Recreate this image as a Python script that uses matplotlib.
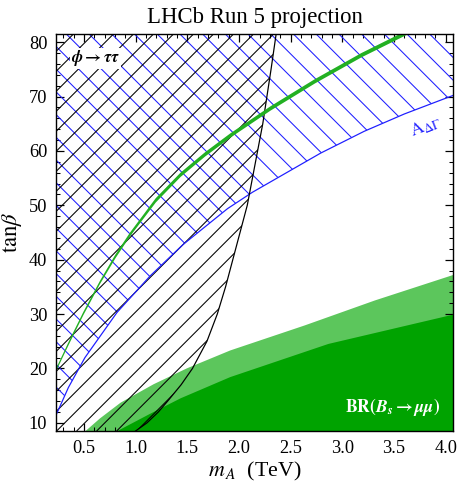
import matplotlib
matplotlib.use('Agg')
import matplotlib.pyplot as plt
import numpy as np
from matplotlib.ticker import MultipleLocator
from matplotlib.collections import LineCollection

# phi -> tau tau exclusion boundary (m_A at given tan beta)
tau_y = [8.5, 10.0, 12.0, 14.0, 17.0, 20.0, 25.0, 30.0, 35.0, 40.0, 45.0, 50.0,
         55.0, 60.0, 65.0, 70.0, 75.0, 81.6]
tau_x = [1.00, 1.11, 1.22, 1.31, 1.44, 1.55, 1.69, 1.79, 1.87, 1.94, 2.01, 2.08,
         2.13, 2.18, 2.23, 2.27, 2.31, 2.36]

# A_DeltaGamma lower boundary
adg_x = [0.23, 0.35, 0.51, 0.82, 1.14, 1.46, 1.89, 2.13, 2.79, 3.21, 3.60, 4.07]
adg_y = [11.4, 16.5, 22.0, 30.3, 37.0, 42.8, 49.4, 52.4, 59.6, 63.6, 66.8, 70.2]

# green central band
band_x = [0.23, 0.36, 0.49, 0.65, 0.80, 0.94, 1.19, 1.43, 1.67, 1.91, 2.30, 2.73, 3.18, 3.70]
band_lo = [19.75, 24.9, 29.9, 35.6, 40.35, 44.35, 50.6, 55.3, 59.1, 62.5, 67.5, 72.5, 77.3, 82.2]
band_hi = [20.25, 25.5, 30.5, 36.2, 41.05, 45.05, 51.4, 56.1, 59.9, 63.3, 68.3, 73.3, 78.1, 83.0]

# BR(Bs -> mu mu) regions
br_light_x = [0.50, 0.65, 0.85, 1.17, 1.49, 1.91, 2.63, 3.31, 4.07]
br_light_y = [8.4, 10.9, 13.8, 17.2, 20.1, 23.4, 28.0, 32.6, 37.3]
br_dark_x = [0.80, 1.14, 1.43, 1.91, 2.86, 4.07]
br_dark_y = [8.4, 11.8, 14.6, 18.5, 24.6, 30.0]

BLUE = '#1f1fff'

plt.rcParams['mathtext.fontset'] = 'stix'
plt.rcParams['font.family'] = ['Liberation Serif', 'DejaVu Serif']

fig = plt.figure(figsize=(457/126., 484/126.), dpi=126)
ax = fig.add_axes([56/457., 1-431/484., 397/457., 397/484.])


def hatch(region, spacing, phase, up, color):
    # diagonal lines in axes coords (the axes box is square -> 45 deg on screen)
    segs = []
    for c in np.arange(phase - 2*spacing*int(1/spacing), 1.0 + spacing, spacing):
        if up:
            segs.append([(c, 0), (c + 1, 1)])
        else:
            segs.append([(c, 1), (c + 1, 0)])
    lc = LineCollection(segs, colors=color, linewidths=0.6, zorder=3,
                        transform=ax.transAxes)
    lc.set_clip_path(region.get_paths()[0], region.get_transform())
    lc.set_clip_box(ax.bbox)
    ax.add_collection(lc, autolim=False)


ax.fill_between(br_light_x, 0, br_light_y, color='#5cc65c', lw=0, zorder=1)
ax.fill_between(br_dark_x, 0, br_dark_y, color='#00a300', lw=0, zorder=2)

adg_reg = ax.fill_between(adg_x, adg_y, 90, facecolor='none', lw=0)
tau_reg = ax.fill_betweenx(tau_y, 0, tau_x, facecolor='none', lw=0)
hatch(adg_reg, 0.0572, 0.4836, False, BLUE)
hatch(tau_reg, 0.0504, 0.052, True, 'black')

ax.plot(adg_x, adg_y, color=BLUE, lw=0.7, zorder=4)
ax.plot(tau_x, tau_y, color='black', lw=0.7, zorder=4)
ax.fill_between(band_x, band_lo, band_hi, color='#22b022', lw=0, zorder=5)

ax.text(0.61, 77.0, r'$\mathbfit{\phi}\mathbf{\rightarrow}\mathbfit{\tau\tau}$', fontsize=9.5,
        ha='center', va='center', zorder=6,
        bbox=dict(facecolor='white', edgecolor='none', pad=0.5))
ax.text(3.81, 64.4, r'$\mathrm{A}_{\Delta\Gamma}$', color=BLUE, fontsize=10.5,
        rotation=21, ha='center', va='center', zorder=6)
ax.text(3.49, 12.9, r'$\mathbf{BR(}\mathbfit{B}_{\mathbfit{s}}\mathbf{\rightarrow}\mathbfit{\mu\mu}\mathbf{)}$',
        color='white', fontsize=10, ha='center', va='center', zorder=6)

ax.set_xlim(0.23, 4.07)
ax.set_ylim(8.5, 81.5)
ax.xaxis.set_major_locator(MultipleLocator(0.5))
ax.xaxis.set_minor_locator(MultipleLocator(0.1))
ax.yaxis.set_major_locator(MultipleLocator(10))
ax.yaxis.set_minor_locator(MultipleLocator(2))
ax.tick_params(which='both', direction='in', top=True, right=True, labelsize=10.5)
ax.tick_params(which='major', length=4.5, width=0.7, pad=5)
ax.tick_params(which='minor', length=2.5, width=0.6)
for s in ax.spines.values():
    s.set_linewidth(0.8)
    s.set_zorder(10)

ax.set_title('LHCb Run 5 projection', fontsize=13, pad=6)
ax.set_xlabel(r'$m_{\,A}$  (TeV)', fontsize=12.5, labelpad=2)
ax.set_ylabel(r'$\mathrm{tan}\beta$', fontsize=13)
ax.yaxis.set_label_coords(-0.08, 0.5)

fig.savefig('out.png', dpi=126)
